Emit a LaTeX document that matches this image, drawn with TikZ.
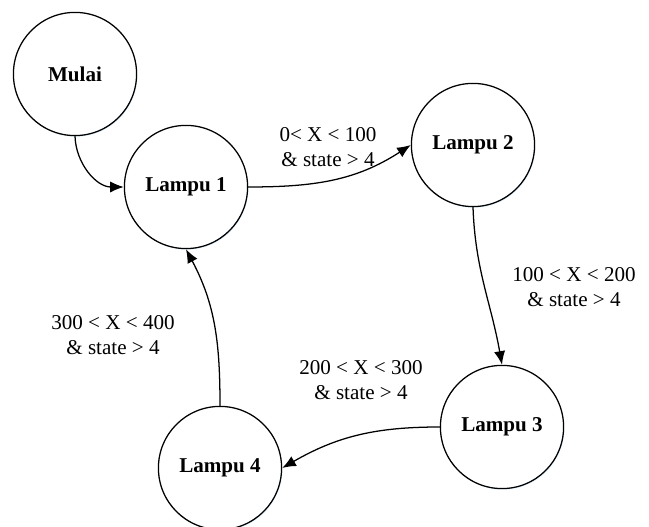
\documentclass[tikz,border=0pt]{standalone}
\usepackage{fontspec}
\setmainfont{Liberation Serif}
\usetikzlibrary{arrows.meta, shadows}

\tikzset{
  state/.style={circle, draw=black, line width=0.9pt, fill=white, minimum size=3.08cm,
    inner sep=0pt, font=\fontsize{15}{18}\selectfont\bfseries,
    drop shadow={shadow xshift=0.6pt, shadow yshift=-0.8pt, fill=blue!40!cyan, opacity=0.12}},
  trans/.style={line width=0.9pt, -{Latex[length=3.4mm, width=2.8mm]}},
  cond/.style={align=center, font=\fontsize{15}{18}\selectfont}
}

\begin{document}
\begin{tikzpicture}

% Canvas
\useasboundingbox (0,0) rectangle (16.225,13.175);

% States
\node[state] (mulai)  at (1.875,11.325) {Mulai};
\node[state] (lampuA) at (4.65,8.5)     {Lampu 1};
\node[state] (lampuB) at (11.825,9.55)  {Lampu 2};
\node[state] (lampuC) at (12.55,2.5)    {Lampu 3};
\node[state] (lampuD) at (5.5,1.475)    {Lampu 4};

% Transitions
\draw[trans] (mulai.south) to[out=-88, in=180] (lampuA.west);
\draw[trans] (lampuA.east) to[out=0, in=213] (lampuB.west);
\draw[trans] (lampuB.south) to[out=-88, in=100] (lampuC.north);
\draw[trans] (lampuC.west) to[out=180, in=30] (lampuD.east);
\draw[trans] (lampuD.north) to[out=90, in=-62] (lampuA.south);

% Conditions
\node[cond] (condAB) at (8.2,9.5)   {0< X < 100\\ \& state > 4};
\node[cond] (condBC) at (14.35,6.0) {100 < X < 200\\ \& state > 4};
\node[cond] (condCD) at (9.025,3.675) {200 < X < 300\\ \& state > 4};
\node[cond] (condDA) at (2.825,4.8) {300 < X < 400\\ \& state > 4};

\end{tikzpicture}
\end{document}
